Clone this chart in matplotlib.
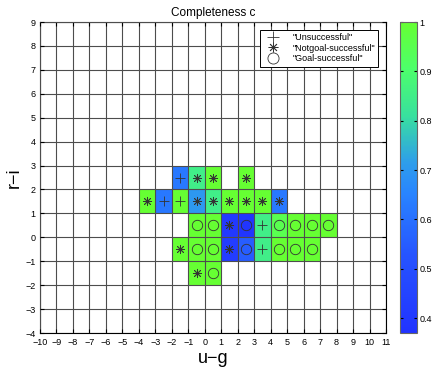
import numpy as np
import matplotlib
matplotlib.use('Agg')
import matplotlib.pyplot as plt
from matplotlib.colors import LinearSegmentedColormap
from matplotlib.lines import Line2D

plt.rcParams['font.family'] = ['Liberation Sans', 'DejaVu Sans']

# cell centres (u-g, r-i), completeness value and outcome marker
cell_u = [-1.5, -0.5, 0.5, 2.5,
          -3.5, -2.5, -1.5, -0.5, 0.5, 1.5, 2.5, 3.5, 4.5,
          -0.5, 0.5, 1.5, 2.5, 3.5, 4.5, 5.5, 6.5, 7.5,
          -1.5, -0.5, 0.5, 1.5, 2.5, 3.5, 4.5, 5.5, 6.5,
          -0.5, 0.5]
cell_r = [2.5] * 4 + [1.5] * 9 + [0.5] * 9 + [-0.5] * 9 + [-1.5] * 2
completeness = [0.62, 0.85, 1.0, 1.0,
                1.0, 0.62, 1.0, 0.70, 0.85, 1.0, 1.0, 1.0, 0.62,
                1.0, 1.0, 0.40, 0.38, 0.85, 0.95, 1.0, 1.0, 1.0,
                1.0, 1.0, 1.0, 0.42, 0.55, 0.85, 1.0, 1.0, 1.0,
                1.0, 1.0]
outcome = ['+', '*', '*', '*',
           '*', '+', '+', '*', '*', '*', '*', '*', '*',
           'o', 'o', '*', 'o', '+', 'o', 'o', 'o', 'o',
           '*', 'o', 'o', '*', 'o', '+', 'o', 'o', 'o',
           '*', 'o']

x_edges = np.arange(-10, 12)
y_edges = np.arange(-4, 10)

grid = np.full((len(y_edges) - 1, len(x_edges) - 1), np.nan)
for u, r, c in zip(cell_u, cell_r, completeness):
    grid[int(np.floor(r)) + 4, int(np.floor(u)) + 10] = c

cmap = LinearSegmentedColormap.from_list('bg', [
    (0.0, (0.13, 0.20, 1.0)),
    (0.25, (0.15, 0.33, 1.0)),
    (0.45, (0.16, 0.52, 1.0)),
    (0.55, (0.18, 0.62, 0.92)),
    (0.70, (0.22, 0.88, 0.62)),
    (0.85, (0.30, 1.0, 0.42)),
    (1.0, (0.40, 1.0, 0.20))])
cmap.set_bad('white')

fig = plt.figure(figsize=(4.36, 3.67), dpi=100)
ax = fig.add_axes([0.0917, 0.0926, 0.7936, 0.8474])
cax = fig.add_axes([0.917, 0.0926, 0.039, 0.8474])

mesh = ax.pcolormesh(x_edges, y_edges, np.ma.masked_invalid(grid), cmap=cmap,
                     vmin=0.37, vmax=1.0, edgecolor='none')

ax.set_xticks(x_edges)
ax.set_yticks(y_edges)
ax.set_xticklabels([str(v).replace('-', '\u2212') for v in x_edges])
ax.set_yticklabels([str(v).replace('-', '\u2212') for v in y_edges])
ax.grid(True, color='0.3', lw=0.8)
ax.set_axisbelow(False)
ax.set_xlim(-10, 11)
ax.set_ylim(-4, 9)
ax.tick_params(direction='in', length=3, labelsize=6.5, top=True, right=True)
ax.tick_params(axis='x', pad=3.5)
ax.tick_params(axis='y', pad=3)

msize = {'+': 7.5, '*': 6.5, 'o': 7.5}
mstyle = {'+': '+', '*': (8, 2, 0), 'o': 'o'}
for u, r, m in zip(cell_u, cell_r, outcome):
    ax.plot(u, r, marker=mstyle[m], ms=msize[m], mfc='none', mec='0.2',
            mew=0.6, ls='none')

handles = [Line2D([], [], marker='+', ms=8, mec='0.2', mew=0.6, ls='none'),
           Line2D([], [], marker=(8, 2, 0), ms=7, mec='0.2', mew=0.6, ls='none'),
           Line2D([], [], marker='o', ms=8, mfc='none', mec='0.2', mew=0.6, ls='none')]
leg = ax.legend(handles, ['"Unsuccessful"', '"Notgoal-successful"', '"Goal-successful"'],
                loc='upper right', fontsize=6.5, frameon=True, fancybox=False,
                edgecolor='black', framealpha=1, borderpad=0.35, labelspacing=0.2,
                handletextpad=1.0, handlelength=2.2, bbox_to_anchor=(0.99, 0.99))
leg.get_frame().set_linewidth(0.7)

ax.set_title('Completeness c', fontsize=8.5, pad=4)
ax.set_xlabel('u\u2212g', fontsize=13, labelpad=2)
ax.set_ylabel('r\u2212i', fontsize=13, labelpad=2)

cb = fig.colorbar(mesh, cax=cax, ticks=[0.4, 0.5, 0.6, 0.7, 0.8, 0.9, 1])
cb.ax.set_yticklabels(['0.4', '0.5', '0.6', '0.7', '0.8', '0.9', '1'])
cb.ax.tick_params(labelsize=6.5, direction='in', length=2, left=True, right=True,
                  pad=2)
cb.outline.set_edgecolor('0.4')

plt.savefig('out.png', dpi=100)
